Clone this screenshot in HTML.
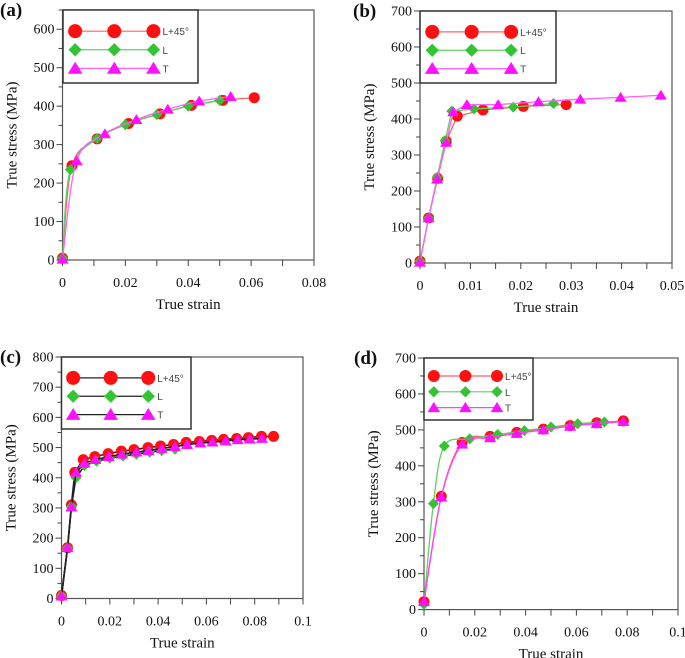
<!DOCTYPE html>
<html><head><meta charset="utf-8"><style>
body{margin:0;background:#fff;}
svg{display:block;font-family:"Liberation Serif",serif;}
.leg{font-family:"Liberation Sans",sans-serif;font-size:10px;fill:#444;}
</style></head><body>
<svg id="fig" width="685" height="658" viewBox="0 0 685 658" xmlns="http://www.w3.org/2000/svg"></svg>
<script>
// Panel (a)
const aRedX=[0,0.003,0.011,0.021,0.031,0.041,0.051,0.061];
const aRedY=[5,245,315,355,380,402,415,422];
const aGreenX=[0,0.0025,0.011,0.020,0.030,0.040,0.050];
const aGreenY=[5,235,316,352,378,400,415];
const aMagX=[0,0.0045,0.0135,0.0235,0.0335,0.0435,0.0535];
const aMagY=[2,258,328,365,392,413,425];
// Panel (b)
const bRedX=[0,0.0017,0.0035,0.0052,0.0074,0.0125,0.0205,0.029];
const bRedY=[5,125,235,338,408,425,435,440];
const bGreenX=[0,0.0017,0.0034,0.005,0.0063,0.0107,0.0185,0.0265];
const bGreenY=[5,125,238,340,422,428,433,443];
const bMagX=[0,0.0017,0.0034,0.0052,0.0066,0.0093,0.0155,0.0235,0.0318,0.0398,0.0478];
const bMagY=[2,125,233,335,420,440,440,448,455,460,466];
// Panel (c)
const cRedX=[0,0.0025,0.0041,0.0055,0.009,0.0138,0.0193,0.0248,0.030,0.0358,0.041,0.0464,0.0516,0.0571,0.0622,0.0671,0.0725,0.0774,0.0828,0.0878];
const cRedY=[10,168,310,418,460,470,480,488,493,500,505,510,517,520,524,527,530,533,537,537];
const cGreenX=[0,0.0025,0.0041,0.006,0.0095,0.0145,0.020,0.0255,0.031,0.0365,0.0415,0.047];
const cGreenY=[10,168,305,400,440,455,465,472,478,485,490,495];
const cMagX=[0,0.0025,0.0041,0.006,0.0095,0.014,0.0195,0.025,0.031,0.036,0.0415,0.047,0.052,0.0575,0.0625,0.068,0.073,0.078,0.083];
const cMagY=[8,168,303,418,448,460,470,478,485,490,497,503,510,515,518,522,526,528,530];
// Panel (d)
const dRedX=[0,0.0068,0.015,0.026,0.0365,0.047,0.0575,0.068,0.0785];
const dRedY=[22,315,465,482,493,502,512,520,525];
const dGreenX=[0,0.0037,0.008,0.018,0.029,0.0395,0.050,0.0605,0.071];
const dGreenY=[15,295,455,475,487,498,508,517,522];
const dMagX=[0,0.0068,0.015,0.026,0.0365,0.047,0.0575,0.068,0.0785];
const dMagY=[22,313,460,478,490,500,510,517,523];

const NS="http://www.w3.org/2000/svg";
const fig=document.getElementById('fig');
function mk(tag,attrs,parent){const e=document.createElementNS(NS,tag);for(const k in attrs)e.setAttribute(k,attrs[k]);(parent||fig).appendChild(e);return e;}

const RED="#ff1010",GREEN="#33c433",MAG="#ff10ff";

function marker(g,type,x,y,s){
  let e;
  if(type==='circle'){e=mk('circle',{cx:x,cy:y,r:s,fill:RED},g);}
  else if(type==='diamond'){e=mk('polygon',{points:`${x},${y-s} ${x+s},${y} ${x},${y+s} ${x-s},${y}`,fill:GREEN},g);}
  else {e=mk('polygon',{points:`${x},${y-s} ${x+s*1.1},${y+s*0.8} ${x-s*1.1},${y+s*0.8}`,fill:MAG},g);}
  return e;
}

function smoothPath(pts){
  if(pts.length<3)return 'M'+pts.map(p=>p.join(',')).join('L');
  let d='M'+pts[0][0]+','+pts[0][1];
  for(let i=0;i<pts.length-1;i++){
    const p0=pts[i-1]||pts[i],p1=pts[i],p2=pts[i+1],p3=pts[i+2]||p2;
    const c1=[p1[0]+(p2[0]-p0[0])/6,p1[1]+(p2[1]-p0[1])/6];
    const c2=[p2[0]-(p3[0]-p1[0])/6,p2[1]-(p3[1]-p1[1])/6];
    d+=`C${c1[0]},${c1[1]} ${c2[0]},${c2[1]} ${p2[0]},${p2[1]}`;
  }
  return d;
}

function panel(o){
  const g=mk('g',{});
  
  
  const sx=v=>o.L+(v/o.xmax)*(o.R-o.L);
  const sy=v=>o.B-(v/o.ymax)*(o.B-o.T);
  const frame=mk('rect',{x:o.L,y:o.T,width:o.R-o.L,height:o.B-o.T,fill:'none',stroke:'#555','stroke-width':1.2},g);
  
  
  // y ticks
  for(let v=0;v<=o.ymax+0.001;v+=o.ystep/2){
    const y=sy(v);const major=Math.round(v/o.ystep*2)%2===0;
    mk('line',{x1:o.L-(major?6:4),x2:o.L,y1:y,y2:y,stroke:'#444','stroke-width':1},g);
    if(major){const t=mk('text',{x:o.L-8,y:y+4.5,'text-anchor':'end','font-size':14,fill:'#111'},g);t.textContent=v;
      }
  }
  // x ticks
  const n=Math.round(o.xmax/o.xstep);
  for(let i=0;i<=n;i++){
    const v=i*o.xstep,x=sx(v);
    mk('line',{x1:x,x2:x,y1:o.B,y2:o.B+6,stroke:'#444','stroke-width':1},g);
    if(i%o.xlabEvery===0){const t=mk('text',{x:x,y:o.B+27,'text-anchor':'middle','font-size':14,fill:'#111'},g);
      t.textContent=o.xfmt(v);}
  }
  const xl=mk('text',{x:(o.L+o.R)/2,y:o.B+49,'text-anchor':'middle','font-size':15,fill:'#111'},g);
  xl.textContent='True strain';
  const yx=o.L-46,yy=(o.T+o.B)/2;
  const yl=mk('text',{x:yx,y:yy,'text-anchor':'middle','font-size':15,fill:'#111',transform:`rotate(-90 ${yx} ${yy})`},g);
  yl.textContent='True stress (MPa)';
  const pl=mk('text',{x:o.plx,y:o.ply,'font-size':19,'font-weight':'bold',fill:'#111'},g);
  pl.textContent='('+o.id+')';
  // series
  o.series.forEach(s=>{
    const pts=s.x.map((v,i)=>[sx(v),sy(s.y[i])]);
    const p=mk('path',{d:o.smooth?smoothPath(pts):'M'+pts.map(q=>q.join(',')).join('L'),fill:'none',stroke:o.lineColor||s.lc,'stroke-width':o.lineColor?1.6:1.3},g);
    
    pts.forEach(q=>{const m=marker(g,s.type,q[0],q[1],s.type==='circle'?5.5:5.5);
      });
  });
  // legend
  const lb=mk('rect',{x:o.lg[0],y:o.lg[1],width:o.lg[2],height:o.lg[3],fill:'#fff',stroke:'#333','stroke-width':1.5},g);
  
  const names=['L+45°','L','T'];
  o.series.forEach((s,i)=>{
    const ry=o.lg[1]+o.lg[3]*(0.29+0.255*i);
    const x0=o.lg[0]+o.lg[2]*0.09,x2=o.lg[0]+o.lg[2]*0.67;
    mk('line',{x1:x0,x2:x2,y1:ry,y2:ry,stroke:o.lineColor||s.lc,'stroke-width':1.2},g);
    [x0,(x0+x2)/2,x2].forEach(x=>{const m=marker(g,s.type,x,ry,s.type==='circle'?o.lms:o.lms*0.95);
      });
    const t=mk('text',{x:x2+o.lms+2,y:ry+4,class:'leg'},g);t.textContent=names[i];
    
  });
}
const f2=v=>v===0?'0':v.toFixed(2).replace(/^0/,'0');
const f1=v=>v===0?'0':(Math.abs(v-0.1)<1e-9?'0.1':v.toFixed(2));
panel({id:'a',L:62.5,R:314,T:10,B:260,xmax:0.08,ymax:650,ystep:100,xstep:0.01,xlabEvery:2,xfmt:f2,plx:0,ply:16,smooth:true,lms:7,
  lg:[63,10,135,73],
  series:[{name:'l45',type:'circle',x:aRedX,y:aRedY,lc:'#ff6060'},{name:'l',type:'diamond',x:aGreenX,y:aGreenY,lc:'#60d060'},{name:'t',type:'triangle',x:aMagX,y:aMagY,lc:'#ff60ff'}]});
panel({id:'b',L:420,R:672,T:11,B:263,xmax:0.05,ymax:700,ystep:100,xstep:0.005,xlabEvery:2,xfmt:v=>v===0?'0':v.toFixed(2),plx:353,ply:17,smooth:false,lms:7,
  lg:[420,11,136,72],
  series:[{name:'l45',type:'circle',x:bRedX,y:bRedY,lc:'#ff6060'},{name:'l',type:'diamond',x:bGreenX,y:bGreenY,lc:'#60d060'},{name:'t',type:'triangle',x:bMagX,y:bMagY,lc:'#ff60ff'}]});
panel({id:'c',L:61.5,R:303,T:357,B:598.5,xmax:0.1,ymax:800,ystep:100,xstep:0.01,xlabEvery:2,xfmt:f1,plx:0,ply:363,smooth:false,lms:7,lineColor:'#222',
  lg:[61.5,357,129.5,72],
  series:[{name:'l45',type:'circle',x:cRedX,y:cRedY},{name:'l',type:'diamond',x:cGreenX,y:cGreenY},{name:'t',type:'triangle',x:cMagX,y:cMagY}]});
panel({id:'d',L:424,R:678,T:358,B:609.6,xmax:0.1,ymax:700,ystep:100,xstep:0.01,xlabEvery:2,xfmt:f1,plx:354,ply:364,smooth:true,lms:6,
  lg:[424,358,109,62],
  series:[{name:'l45',type:'circle',x:dRedX,y:dRedY,lc:'#ff6060'},{name:'l',type:'diamond',x:dGreenX,y:dGreenY,lc:'#60d060'},{name:'t',type:'triangle',x:dMagX,y:dMagY,lc:'#ff40ff'}]});
</script>
</body></html>
